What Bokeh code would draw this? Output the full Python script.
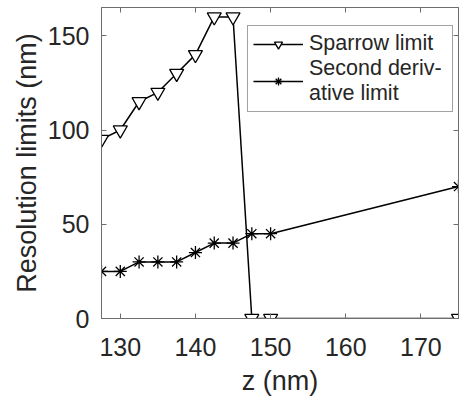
from bokeh.plotting import figure
from bokeh.models import LinearAxis, Legend, LegendItem, FixedTicker, Range1d
from bokeh.embed import file_html
from bokeh.resources import INLINE

z = [127.5, 130, 132.5, 135, 137.5, 140, 142.5, 145, 147.5, 150, 175]
sparrow = [95, 100, 115, 120, 130, 140, 160, 160, 0, 0, 0]
second = [25, 25, 30, 30, 30, 35, 40, 40, 45, 45, 70]
xticks = [130, 140, 150, 160, 170]
yticks = [0, 50, 100, 150]

FONT = "Liberation Sans"
AX = "#6e6e6e"
TXT = "#262626"

p = figure(width=463, height=398, output_backend="svg", toolbar_location=None,
           x_range=Range1d(127.5, 175), y_range=Range1d(0, 165),
           min_border_left=101, min_border_right=5, min_border_top=7, min_border_bottom=80)
p.grid.visible = False
p.outline_line_color = AX
p.outline_line_width = 1

def style(ax, labels=True):
    ax.axis_line_color = AX
    ax.major_tick_line_color = AX
    ax.major_tick_in = 5
    ax.major_tick_out = 0
    ax.minor_tick_line_color = None
    ax.major_label_text_font = FONT
    ax.major_label_text_font_size = "25px"
    ax.major_label_text_color = TXT
    ax.axis_label_text_font = FONT
    ax.axis_label_text_font_size = "27px"
    ax.axis_label_text_font_style = "normal"
    ax.axis_label_text_color = TXT
    if not labels:
        ax.major_label_text_color = None
        ax.major_label_standoff = 0

p.xaxis.ticker = FixedTicker(ticks=xticks)
p.yaxis.ticker = FixedTicker(ticks=yticks)
style(p.xaxis[0]); style(p.yaxis[0])
p.xaxis.axis_label = "z (nm)"
p.yaxis.axis_label = "Resolution limits (nm)"
p.xaxis.major_label_standoff = 19
p.yaxis.major_label_standoff = 12
p.xaxis.axis_label_standoff = 7
p.yaxis.axis_label_standoff = 3
p.xaxis.axis_label_text_line_height = 1.0
p.xaxis.major_label_text_line_height = 1.0

top = LinearAxis(ticker=FixedTicker(ticks=xticks))
right = LinearAxis(ticker=FixedTicker(ticks=yticks))
style(top, False); style(right, False)
p.add_layout(top, "above")
p.add_layout(right, "right")

l1 = p.line(z, sparrow, line_color="black", line_width=1.5)
m1 = p.scatter(z, sparrow, marker="inverted_triangle", size=14, fill_color="white",
               line_color="black", line_width=1.3)
l2 = p.line(z, second, line_color="black", line_width=1.5)
m2 = p.scatter(z, second, marker="asterisk", size=13, line_color="black", line_width=1.3)

legend = Legend(items=[LegendItem(label="Sparrow limit", renderers=[l1, m1]),
                       LegendItem(label="Second deriv-\native limit", renderers=[l2, m2])],
                location=(146, 206))
legend.label_text_font = FONT
legend.label_text_font_size = "21.5px"
legend.label_text_line_height = 1.25
legend.label_text_color = TXT
legend.border_line_color = "#444444"
legend.border_line_width = 1
legend.glyph_width = 50
legend.label_width = 138
legend.spacing = -2
legend.padding = 5
legend.margin = 0
legend.label_standoff = 6
p.add_layout(legend)

open("out.html", "w").write(file_html(p, INLINE))
